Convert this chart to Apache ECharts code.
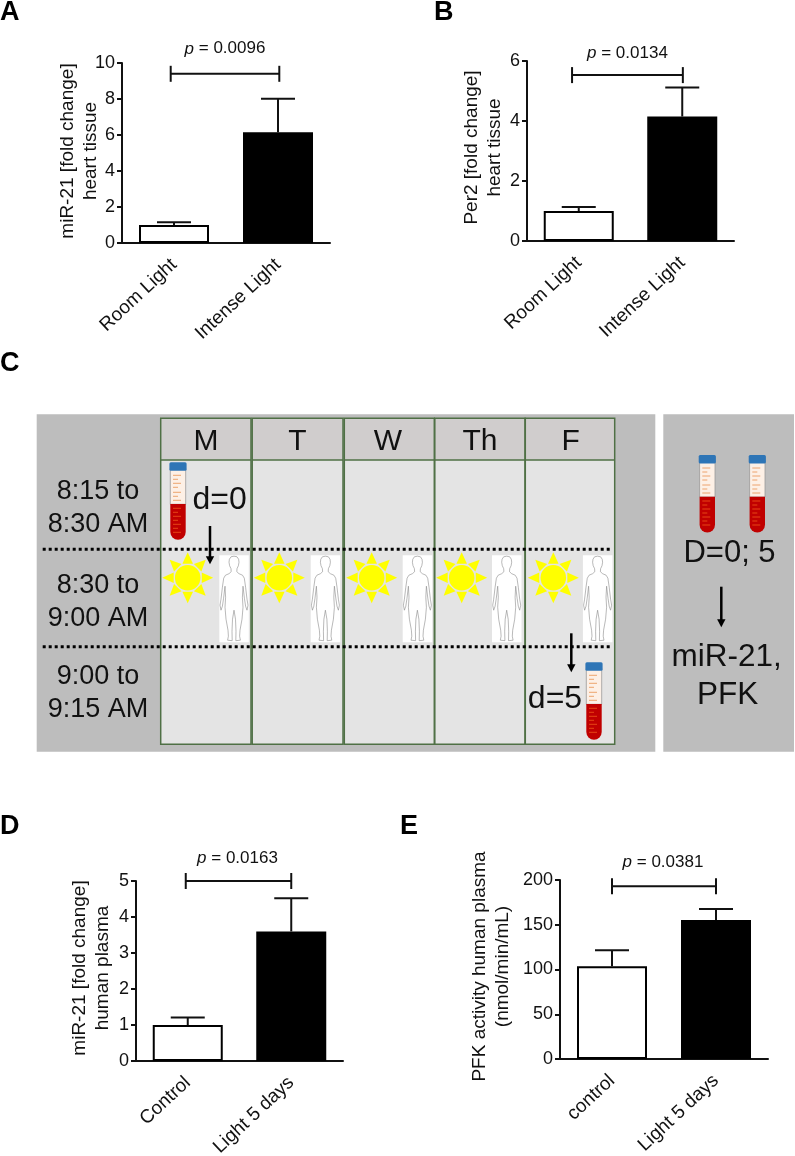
<!DOCTYPE html>
<html><head><meta charset="utf-8">
<style>html,body{margin:0;padding:0;background:#fff}#c{width:795px;height:1156px}</style>
<script src="https://cdn.jsdelivr.net/npm/echarts@6/dist/echarts.min.js"></script>
</head><body><div id="c"></div>
<script>
// ---- data ----
const categoriesAB = ['Room Light', 'Intense Light'];
const categoriesD = ['Control', 'Light 5 days'];
const categoriesE = ['control', 'Light 5 days'];
const meansA = [1.0, 6.15];
const upperA = [1.15, 8.02];
const meansB = [1.0, 4.15];
const upperB = [1.135, 5.12];
const meansD = [1.0, 3.6];
const upperD = [1.21, 4.52];
const meansE = [103.5, 155.4];
const upperE = [121.6, 167.7];
const titleA = 'miR-21 [fold change]\nheart tissue';
const titleB = 'Per2 [fold change]\nheart tissue';
const titleD = 'miR-21 [fold change]\nhuman plasma';
const titleE = 'PFK activity human plasma\n(nmol/min/mL)';
const pA = '0.0096', pB = '0.0134', pD = '0.0163', pE = '0.0381';
const bracketA = 9.4, bracketB = 5.53, bracketD = 5.0, bracketE = 193;
const days = ['M', 'T', 'W', 'Th', 'F'];
const times = ['8:15 to\n8:30 AM', '8:30 to\n9:00 AM', '9:00 to\n9:15 AM'];

// ---- layout ----
const FONT = '"Liberation Sans", Arial, sans-serif';
const INK = '#111';
const panels = [
  {cats: categoriesAB, means: meansA, upper: upperA, title: titleA, p: pA, br: bracketA, max: 10, step: 2,
   left: 122, top: 63, width: 208, height: 180, gap: 20, shift: 4, bdx: [-3.3, 1.3], pdx: 0, pdy: -25},
  {cats: categoriesAB, means: meansB, upper: upperB, title: titleB, p: pB, br: bracketB, max: 6, step: 2,
   left: 527, top: 61, width: 207, height: 180, gap: 21, shift: 7, bdx: [-6.7, 0.6], pdx: 0, pdy: -22},
  {cats: categoriesD, means: meansD, upper: upperD, title: titleD, p: pD, br: bracketD, max: 5, step: 1,
   left: 136, top: 881, width: 207, height: 180, gap: 22, shift: 6, bdx: [-2, 0], pdx: -1, pdy: -23},
  {cats: categoriesE, means: meansE, upper: upperE, title: titleE, p: pE, br: bracketE, max: 200, step: 50,
   left: 560, top: 880, width: 208, height: 179, gap: 46, shift: 6, bdx: [0, 0], pdx: -1, pdy: -24}
];

const grid = [], xAxis = [], yAxis = [], series = [];
panels.forEach((p, i) => {
  grid.push({left: p.left, top: p.top, width: p.width, height: p.height, containLabel: false, outerBoundsMode: 'none'});
  xAxis.push({
    type: 'category', gridIndex: i, data: p.cats, boundaryGap: true,
    axisLine: {lineStyle: {color: INK, width: 2}},
    axisTick: {alignWithLabel: true, length: 5, lineStyle: {color: INK, width: 2}},
    axisLabel: {rotate: 43, fontSize: 19, fontFamily: FONT, color: INK, margin: 19, interval: 0}
  });
  yAxis.push({
    type: 'value', gridIndex: i, min: 0, max: p.max, interval: p.step, splitLine: {show: false},
    axisLine: {show: true, lineStyle: {color: INK, width: 2}},
    axisTick: {show: true, length: 5, lineStyle: {color: INK, width: 2}},
    axisLabel: {fontSize: 18, fontFamily: FONT, color: INK, margin: 7, padding: [4, 0, 0, 0]},
    name: p.title, nameLocation: 'middle', nameRotate: 90, nameGap: p.gap, nameMoveOverlap: false,
    nameTextStyle: {fontSize: 19, fontFamily: FONT, color: INK, lineHeight: 23, padding: [0, 0, 0, p.shift]}
  });
  series.push({
    type: 'bar', xAxisIndex: i, yAxisIndex: i, barWidth: 70, silent: true,
    data: p.means.map((v, k) => ({value: v, itemStyle: {color: k === 0 ? '#fff' : '#000', borderColor: '#000', borderWidth: 2}}))
  });
  series.push({
    type: 'custom', xAxisIndex: i, yAxisIndex: i, silent: true, z: 1,
    data: p.upper.map((u, k) => [k, u, p.means[k]]),
    encode: {x: 0, y: 1},
    renderItem: (params, api) => {
      const a = api.coord([api.value(0), api.value(1)]);
      const b = api.coord([api.value(0), api.value(2)]);
      const st = {stroke: INK, lineWidth: 2, fill: null};
      return {type: 'group', children: [
        {type: 'line', shape: {x1: a[0], y1: a[1], x2: b[0], y2: b[1]}, style: st},
        {type: 'line', shape: {x1: a[0] - 17, y1: a[1], x2: a[0] + 17, y2: a[1]}, style: st}
      ]};
    }
  });
  series.push({
    type: 'custom', xAxisIndex: i, yAxisIndex: i, silent: true, z: 3,
    data: [[0, p.br]],
    encode: {x: 0, y: 1},
    renderItem: (params, api) => {
      const a = api.coord([0, api.value(1)]), b = api.coord([1, api.value(1)]);
      const x1 = a[0] + p.bdx[0], x2 = b[0] + p.bdx[1], y = a[1];
      const st = {stroke: INK, lineWidth: 2, fill: null};
      return {type: 'group', children: [
        {type: 'line', shape: {x1, y1: y, x2, y2: y}, style: st},
        {type: 'line', shape: {x1, y1: y - 8, x2: x1, y2: y + 8}, style: st},
        {type: 'line', shape: {x1: x2, y1: y - 8, x2, y2: y + 8}, style: st},
        {type: 'text', x: (x1 + x2) / 2 + p.pdx, y: y + p.pdy, style: {
          text: '{i|p} = ' + p.p, align: 'center', verticalAlign: 'middle', fill: INK,
          font: '17px ' + FONT,
          rich: {i: {fontStyle: 'italic', fontSize: 17, fontFamily: FONT, fill: INK}}
        }}
      ]};
    }
  });
});

// ---- panel C drawn with graphic elements ----
const g = [];
const txt = (t, x, y, size, extra) => g.push({type: 'text', x, y, silent: true, style: Object.assign({
  text: t, align: 'center', verticalAlign: 'middle', fill: INK, font: size + 'px ' + FONT}, extra || {})});
const rect = (x, y, w, h, fill, extra) => g.push({type: 'rect', silent: true, shape: {x, y, width: w, height: h, r: (extra && extra.r) || 0},
  style: {fill, stroke: (extra && extra.stroke) || null, lineWidth: (extra && extra.lw) || 0}});
const seg = (x1, y1, x2, y2, stroke, lw, dash) => g.push({type: 'line', silent: true, shape: {x1, y1, x2, y2},
  style: {stroke, lineWidth: lw, lineDash: dash || null, fill: null}});

rect(36.7, 414.3, 618.6, 337.4, '#bdbdbd');
rect(663.3, 414.3, 130.7, 337.4, '#bdbdbd');

const colL = [160.7, 252.2, 344.3, 434.8, 525.3];
const colR = [251, 343, 434.3, 525, 614.7];
const hdrX = [206, 297.3, 388, 480, 570.7];
days.forEach((d, i) => {
  const w = colR[i] - colL[i];
  rect(colL[i], 418.3, w, 41.7, '#d0cdcd');
  rect(colL[i], 460, w, 284.3, '#e4e4e4');
  g.push({type: 'rect', silent: true, shape: {x: colL[i], y: 418.3, width: w, height: 326}, style: {fill: null, stroke: '#4f7045', lineWidth: 1.5}});
  seg(colL[i], 460, colR[i], 460, '#4f7045', 1.5);
  txt(d, hdrX[i], 442, 30);
});

const timeY = [508.5, 602, 693];
times.forEach((t, i) => txt(t, 98, timeY[i], 27, {lineHeight: 33}));

function sun(cx, cy) {
  for (let k = 0; k < 8; k++) {
    const a = k * Math.PI / 4, tip = 25.5, base = 15, hw = 0.36;
    g.push({type: 'polygon', silent: true, shape: {points: [
      [cx + tip * Math.sin(a), cy - tip * Math.cos(a)],
      [cx + base * Math.sin(a - hw), cy - base * Math.cos(a - hw)],
      [cx + base * Math.sin(a + hw), cy - base * Math.cos(a + hw)]]}, style: {fill: '#ffff00'}});
  }
  g.push({type: 'circle', silent: true, shape: {cx, cy, r: 12.8}, style: {fill: '#ffff00'}});
}
const bodyHalf = [[0,1],[3,1.6],[4.6,4],[5,7],[4.4,10.5],[3,13.5],[2.8,16.5],[5,18.5],[8.5,20],[10.3,23],[11.6,32],[13,44],[14,50],[13,55],[11.6,51],[10.4,43],[9,31],[8.4,42],[9,52],[8,64],[6,75],[5.6,81],[6.4,85],[1.8,85.5],[2,76],[1.5,64],[0,55]];
function person(x, y) {
  rect(x, y, 29.5, 87, '#fff');
  const cx = x + 14.7;
  const pts = bodyHalf.map(q => [cx + q[0], y + q[1]]).concat(bodyHalf.slice(1, -1).reverse().map(q => [cx - q[0], y + q[1]]));
  g.push({type: 'polygon', silent: true, shape: {points: pts}, style: {fill: null, stroke: '#8a8a8a', lineWidth: 0.6}});
}
function tube(cx, top) {
  const h = 77.5, redTop = top + 41.7;
  rect(cx - 7.7, top + 6, 15.4, 36, '#fdf0e6', {stroke: '#999', lw: 0.8});
  rect(cx - 7.7, redTop, 15.4, h - 41.7, '#c00000', {r: [0, 0, 7.7, 7.7]});
  rect(cx - 8.6, top, 17.2, 8.5, '#2e75b6', {r: 1.5});
  [13, 17, 21, 25, 30, 34, 38].forEach((d, k) => seg(cx - 5, top + d, cx + (k % 2 ? 0 : 3), top + d, '#e8914f', 0.8));
  [46, 50, 54, 58, 62, 66, 70].forEach((d, k) => seg(cx - 5, top + d, cx + (k % 2 ? 0 : 3), top + d, '#f0561a', 0.8));
}
function arrow(x, y1, y2) {
  seg(x, y1, x, y2 - 6, '#000', 2.5);
  g.push({type: 'polygon', silent: true, shape: {points: [[x - 4.2, y2 - 8], [x + 4.2, y2 - 8], [x, y2]]}, style: {fill: '#000'}});
}

[187.7, 279.3, 371.7, 461.7, 553.3].forEach(x => sun(x, 577.7));
[219.3, 310.7, 402.7, 492, 582.9].forEach(x => person(x, 555.2));
[549.3, 646.7].forEach(y => seg(42.7, y, 612.7, y, '#000', 3, [3, 3]));
tube(178, 462.3);
tube(594, 662.3);
tube(707.3, 455);
tube(757.3, 455);
arrow(210, 526, 564.3);
arrow(571.3, 633.3, 672.3);
arrow(721.3, 586.7, 627.3);
txt('d=0', 219.7, 500, 32);
txt('d=5', 555, 698.7, 32);
txt('D=0; 5', 729.5, 553.7, 31);
txt('miR-21,', 726.7, 657.5, 31.5);
txt('PFK', 727.7, 695, 31.5);

// panel letters
const letters = [['A', 0, 13], ['B', 434, 13], ['C', 0, 364], ['D', 0, 827], ['E', 400, 827]];
letters.forEach(l => g.push({type: 'text', x: l[1], y: l[2], silent: true, style: {
  text: l[0], align: 'left', verticalAlign: 'middle', fill: '#000', font: 'bold 27px ' + FONT}}));

const chart = echarts.init(document.getElementById('c'), null, {renderer: 'canvas', width: 795, height: 1156});
chart.setOption({animation: false, backgroundColor: '#fff', grid, xAxis, yAxis, series, graphic: {elements: g}});
</script></body></html>
